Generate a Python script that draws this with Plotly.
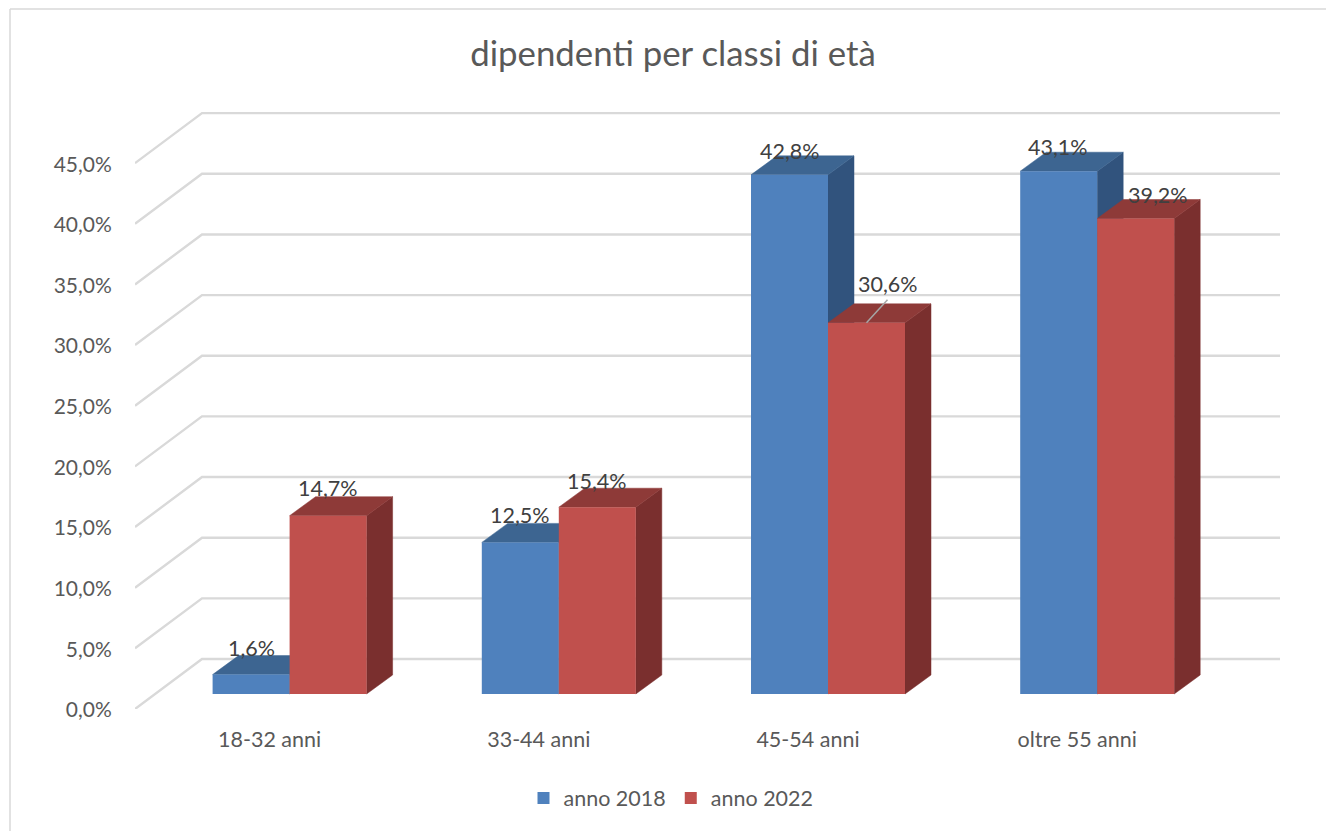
import plotly.graph_objects as go

categories = ["18-32 anni", "33-44 anni", "45-54 anni", "oltre 55 anni"]
series_names = ["anno 2018", "anno 2022"]
values_2018 = [1.6, 12.5, 42.8, 43.1]
values_2022 = [14.7, 15.4, 30.6, 39.2]
y_ticks = [0, 5, 10, 15, 20, 25, 30, 35, 40, 45]
y_tick_labels = ["0,0%", "5,0%", "10,0%", "15,0%", "20,0%", "25,0%", "30,0%", "35,0%", "40,0%", "45,0%"]
labels_2018 = ["1,6%", "12,5%", "42,8%", "43,1%"]
labels_2022 = ["14,7%", "15,4%", "30,6%", "39,2%"]

# pseudo-3D geometry (axis units)
W, H = 1326, 831
L, R, T, B = 135, 1280, 109, 709
CAT_PX = 269.2
PX_PER_V = 12.13
x_lo = -0.5
x_hi = x_lo + (R - L) / CAT_PX
y_hi = (B - T) / PX_PER_V
wall_dx = 67 / CAT_PX
wall_dy = 50 / PX_PER_V
bar_w = 77 / CAT_PX
bar_dx = 26 / CAT_PX
bar_dy = 19 / PX_PER_V
bar_base = 15 / PX_PER_V
bar_shift = 20 / CAT_PX

BLUE, BLUE_TOP, BLUE_SIDE = "#4F81BD", "#3D6591", "#31537D"
RED, RED_TOP, RED_SIDE = "#C0504D", "#8E3A38", "#7A2F2E"
GRID = "#D9D9D9"

fig = go.Figure()

# gridlines: side wall + back wall
gx, gy = [], []
for t in y_ticks:
    gx += [x_lo, x_lo + wall_dx, x_hi, None]
    gy += [t, t + wall_dy, t + wall_dy, None]
fig.add_trace(go.Scatter(x=gx, y=gy, mode="lines", line=dict(color=GRID, width=2.4),
                         showlegend=False, hoverinfo="skip", zorder=0))


def add_series(vals, name, offset, front, top, side, z):
    xs = [i + bar_shift + offset for i in range(len(vals))]
    tx, ty, sx, sy = [], [], [], []
    for xc, v in zip(xs, vals):
        x0, x1 = xc - bar_w / 2, xc + bar_w / 2
        yt = v + bar_base
        tx += [x0, x1, x1 + bar_dx, x0 + bar_dx, x0, None]
        ty += [yt, yt, yt + bar_dy, yt + bar_dy, yt, None]
        sx += [x1, x1 + bar_dx, x1 + bar_dx, x1, x1, None]
        sy += [bar_base, bar_base + bar_dy, yt + bar_dy, yt, bar_base, None]
    for px, py, c in ((sx, sy, side), (tx, ty, top)):
        fig.add_trace(go.Scatter(x=px, y=py, mode="lines", fill="toself", fillcolor=c,
                                 line=dict(color=c, width=0.5), showlegend=False,
                                 hoverinfo="skip", zorder=z))
    fig.add_trace(go.Bar(x=xs, y=vals, base=bar_base, width=bar_w, name=name,
                         marker=dict(color=front, line=dict(width=0)),
                         hoverinfo="skip", zorder=z + 1))
    return xs


xs_a = add_series(values_2018, series_names[0], -bar_w / 2, BLUE, BLUE_TOP, BLUE_SIDE, 1)
xs_b = add_series(values_2022, series_names[1], bar_w / 2, RED, RED_TOP, RED_SIDE, 3)

# leader line of the 30,6% label
i_lead = labels_2022.index("30,6%")
lead_top = values_2022[i_lead] + bar_base
fig.add_trace(go.Scatter(x=[xs_b[i_lead], xs_b[i_lead] + 21 / CAT_PX],
                         y=[lead_top, lead_top + 23 / PX_PER_V], mode="lines",
                         line=dict(color="#A6A6A6", width=1.5), showlegend=False,
                         hoverinfo="skip", zorder=5))

LABEL_FONT = dict(family="Lato, sans-serif", size=21.5, color="#404040")
shifts_a = [(0, 27), (0, 27), (0, 24), (-1, 24)]
shifts_b = [(0, 28), (0, 26), (21, 39), (22, 24)]
anns = []
for xs, vals, texts, shifts in ((xs_a, values_2018, labels_2018, shifts_a),
                                (xs_b, values_2022, labels_2022, shifts_b)):
    for x, v, s, (dx, dy) in zip(xs, vals, texts, shifts):
        anns.append(dict(x=x, y=v + bar_base, text=s, showarrow=False, xshift=dx, yshift=dy,
                         font=LABEL_FONT, yanchor="middle", xanchor="center"))

fig.update_layout(
    width=W, height=H,
    margin=dict(l=L, r=W - R, t=T, b=H - B, pad=0),
    paper_bgcolor="white", plot_bgcolor="white",
    barmode="overlay",
    title=dict(text="dipendenti per classi di età", x=673 / W, xanchor="center",
               y=1 - 54 / H, yanchor="middle",
               font=dict(family="Lato, sans-serif", size=34.8, color="#595959")),
    xaxis=dict(range=[x_lo, x_hi], tickmode="array", tickvals=list(range(len(categories))),
               ticktext=categories, showgrid=False, zeroline=False, showline=False,
               ticks="outside", ticklen=11, tickcolor="rgba(0,0,0,0)",
               tickfont=dict(family="Lato, sans-serif", size=21.5, color="#595959")),
    yaxis=dict(range=[0, y_hi], tickmode="array", tickvals=y_ticks, ticktext=y_tick_labels,
               showgrid=False, zeroline=False, showline=False, ticks="outside", ticklen=18,
               tickcolor="rgba(0,0,0,0)", ticklabelshift=1,
               tickfont=dict(family="Lato, sans-serif", size=21, color="#595959")),
    legend=dict(orientation="h", x=(671 - L) / (R - L), xanchor="center",
                y=(B - 798) / (B - T), yanchor="middle", traceorder="normal",
                font=dict(family="Lato, sans-serif", size=21.5, color="#595959"),
                bgcolor="rgba(0,0,0,0)"),
    annotations=anns,
    shapes=[dict(type="line", xref="paper", yref="paper",
                 x0=(10 - L) / (R - L), x1=(10 - L) / (R - L),
                 y0=(B - 840) / (B - T), y1=(B - 9) / (B - T),
                 line=dict(color="#D9D9D9", width=1.5), layer="below"),
            dict(type="line", xref="paper", yref="paper",
                 x0=(10 - L) / (R - L), x1=(1340 - L) / (R - L),
                 y0=(B - 9) / (B - T), y1=(B - 9) / (B - T),
                 line=dict(color="#D9D9D9", width=1.5), layer="below")],
)

fig.write_html("out.html", config={"displayModeBar": False},
               post_script="document.body.style.margin='0';document.body.style.overflow='hidden';")
